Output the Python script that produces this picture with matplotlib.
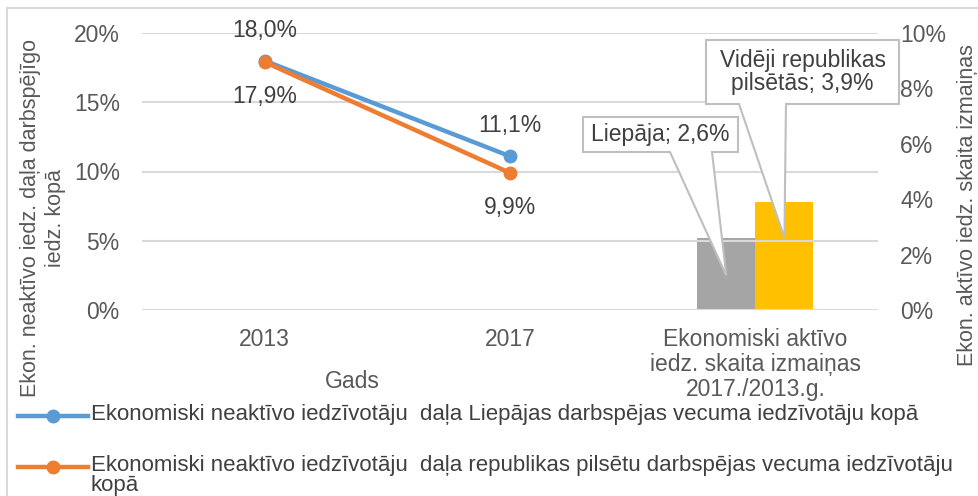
import matplotlib
matplotlib.use("Agg")
import matplotlib.pyplot as plt
from matplotlib.patches import Polygon, Rectangle
from matplotlib.lines import Line2D

plt.rcParams.update({
    'font.family': ['Liberation Sans', 'DejaVu Sans'],
    'font.size': 16.5,
})

# data
categories = ['2013', '2017', 'Ekonomiski aktīvo\niedz. skaita izmaiņas\n2017./2013.g.']
line_x = [0, 1]
liepaja_share = [18.0, 11.1]
cities_share = [17.9, 9.9]
liepaja_labels = ['18,0%', '11,1%']
cities_labels = ['17,9%', '9,9%']
bar_names = ['Liepāja', 'Vidēji republikas\npilsētās']
bar_values = [2.6, 3.9]
bar_labels = ['Liepāja; 2,6%', 'Vidēji republikas\npilsētās; 3,9%']
legend_labels = [
    'Ekonomiski neaktīvo iedzīvotāju  daļa Liepājas darbspējas vecuma iedzīvotāju kopā',
    'Ekonomiski neaktīvo iedzīvotāju  daļa republikas pilsētu darbspējas vecuma iedzīvotāju\nkopā',
]

BLUE = '#5B9BD5'
ORANGE = '#ED7D31'
GREY_BAR = '#A5A5A5'
YELLOW = '#FFC000'
TXT = '#595959'
DARK = '#404040'
GRID = '#D9D9D9'

W, H = 979, 496
fig = plt.figure(figsize=(W / 100, H / 100), dpi=100)


def fx(x):
    return x / W


def fy(y):
    return 1 - y / H


# outer chart border
fig.add_artist(Rectangle((fx(7), fy(500)), fx(990) - fx(7), fy(8) - fy(500),
                         transform=fig.transFigure, fill=False, edgecolor=GRID, lw=1.5))

ax = fig.add_axes([fx(142), fy(310), fx(878) - fx(142), fy(33) - fy(310)])
ax2 = ax.twinx()

ax.set_xlim(-0.5, 2.5)
ax.set_ylim(0, 20)
ax2.set_ylim(0, 10)
ax.set_yticks([0, 5, 10, 15, 20])
ax.set_yticklabels([f'{v}%' for v in [0, 5, 10, 15, 20]])
ax2.set_yticks([0, 2, 4, 6, 8, 10])
ax2.set_yticklabels([f'{v}%' for v in [0, 2, 4, 6, 8, 10]])
ax.set_xticks(range(len(categories)))
ax.set_xticklabels(categories, linespacing=1.12)

for a in (ax, ax2):
    for s in a.spines.values():
        s.set_visible(False)
    a.tick_params(length=0, colors=TXT, labelsize=16.5)
ax.tick_params(axis='y', pad=16)
ax2.tick_params(axis='y', pad=16)
ax.tick_params(axis='x', pad=13)
ax.yaxis.grid(True, color=GRID, lw=1.5)
ax.set_axisbelow(True)

# bars on secondary axis
bw = 0.237
bar_x = [2 - bw / 2, 2 + bw / 2]
ax2.bar(bar_x, bar_values, width=bw, color=[GREY_BAR, YELLOW], zorder=2)

# lines on primary axis, drawn above the bars
ax.set_zorder(ax2.get_zorder() + 1)
ax.patch.set_visible(False)
ax.plot(line_x, liepaja_share, color=BLUE, lw=3.2, marker='o', ms=9, zorder=3)
ax.plot(line_x, cities_share, color=ORANGE, lw=3.2, marker='o', ms=9, zorder=4)
for x, v, t in zip(line_x, liepaja_share, liepaja_labels):
    ax.annotate(t, (x, v), xytext=(0, 22), textcoords='offset points',
                ha='center', va='center', color=DARK, fontsize=16.5)
for x, v, t in zip(line_x, cities_share, cities_labels):
    ax.annotate(t, (x, v), xytext=(0, -25), textcoords='offset points',
                ha='center', va='center', color=DARK, fontsize=16.5)

# callouts for bars
fig.canvas.draw()
callouts = [
    # box left, top, right, bottom, wedge base left, right, tip height fraction
    (583, 117, 738, 152, 670, 712, 0.48),
    (706, 40, 899, 104, 739, 786, 0.67),
]
for (l, t, r, b, w1, w2, frac), bx, v, lab in zip(callouts, bar_x, bar_values, bar_labels):
    tx, ty = ax2.transData.transform((bx, v * frac))
    tip = (tx, H - ty)
    pts = [(l, t), (r, t), (r, b), (w2, b), tip, (w1, b), (l, b)]
    fig.add_artist(Polygon([(fx(px), fy(py)) for px, py in pts], closed=True,
                           transform=fig.transFigure, facecolor='white',
                           edgecolor='#BFBFBF', lw=1.5, zorder=10))
    fig.text(fx((l + r) / 2), fy((t + b) / 2), lab, ha='center', va='center',
             color=DARK, fontsize=16.5, linespacing=1.0, zorder=11)

# axis titles
fig.text(fx(43), fy(218), 'Ekon. neaktīvo iedz. daļa darbspējīgo\niedz. kopā',
         rotation=90, ha='center', va='center', color=TXT, fontsize=15.5,
         linespacing=1.3)
fig.text(fx(968), fy(205), 'Ekon. aktīvo iedz. skaita izmaiņas',
         rotation=90, ha='center', va='center', color=TXT, fontsize=15.5)
fig.text(fx(352), fy(381), 'Gads', ha='center', va='center', color=TXT, fontsize=16.5)

# legend drawn by hand
for (yy, col, lab) in zip([416, 467], [BLUE, ORANGE], legend_labels):
    fig.add_artist(Line2D([fx(18), fx(88)], [fy(yy), fy(yy)], color=col, lw=3.2,
                          transform=fig.transFigure))
    fig.add_artist(Line2D([fx(53)], [fy(yy)], color=col, marker='o', ms=9,
                          transform=fig.transFigure))
    fig.text(fx(91), fy(yy - 12), lab, ha='left', va='top', color=DARK,
             fontsize=16, linespacing=0.92)

fig.savefig('out.png', dpi=100)
